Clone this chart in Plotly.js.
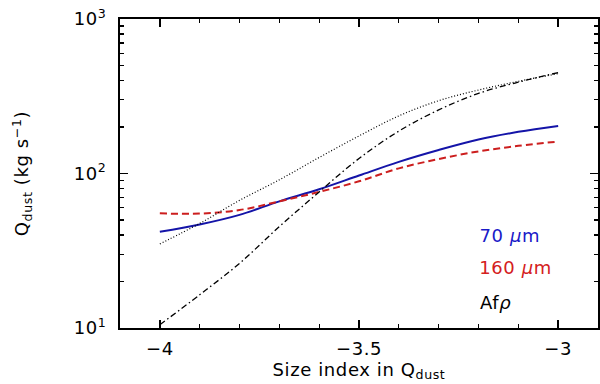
<!DOCTYPE html>
<html>
<head>
<meta charset="utf-8">
<script src="https://cdn.plot.ly/plotly-3.0.1.min.js"></script>
<style>
  html, body { margin: 0; padding: 0; background: #fff; }
  #chart { width: 600px; height: 384px; }
  #chart text { letter-spacing: 0.6px; }
</style>
</head>
<body>
<div id="chart"></div>
<script>
// Size index values (x axis)
const sizeIndex = [-4.0, -3.9, -3.8, -3.7, -3.6, -3.5, -3.4, -3.3, -3.2, -3.1, -3.0];

// Q_dust (kg/s) for each model
const q70 = [42, 46.8, 54, 66, 79, 97, 119, 142, 166, 186, 203];
const q160 = [55.2, 55, 58, 66, 76, 89, 108, 124, 139, 151, 161];
const qAfrhoDot = [35, 47.5, 67, 91, 127, 175, 236, 296, 347, 395, 443];
const qAfrhoDashDot = [10.5, 16.4, 26.2, 45.3, 76, 125, 188, 258, 330, 390, 450];

// Labels drawn inside the plot
const labelNames = ["70 <i>\u03bc</i>m", "160 <i>\u03bc</i>m", "Af<i>\u03c1</i>"];
const labelColors = ["#1a1ac8", "#d42020", "#000000"];

const FONT = "DejaVu Sans, Arial, Helvetica, sans-serif";

const traces = [
    { x: sizeIndex, y: q70, mode: "lines", line: { color: "#1414a8", width: 2, shape: "spline" } },
    { x: sizeIndex, y: q160, mode: "lines", line: { color: "#cc1e1e", width: 2, dash: "7px,4px", shape: "spline" } },
    { x: sizeIndex, y: qAfrhoDot, mode: "lines", line: { color: "#000", width: 1.2, dash: "1px,2px", shape: "spline" } },
    { x: sizeIndex, y: qAfrhoDashDot, mode: "lines", line: { color: "#000", width: 1.3, dash: "6px,3px,1.5px,3px", shape: "spline" } }
];

// minor tick positions on the log axis (2..9 x decade)
const yMinor = [];
[10, 100].forEach(d => { for (let k = 2; k <= 9; k++) yMinor.push(k * d); });

const annotations = labelNames.map((t, i) => ({
    text: t,
    xref: "paper", yref: "paper",
    x: (479 - 120) / 478, y: 1 - ([235, 267, 302][i] - 19) / 309,
    xanchor: "left", yanchor: "middle",
    showarrow: false,
    font: { family: FONT, size: 18, color: labelColors[i] }
}));

const layout = {
    width: 600, height: 384,
    margin: { l: 120, r: 2, t: 19, b: 56 },
    showlegend: false,
    paper_bgcolor: "#fff", plot_bgcolor: "#fff",
    font: { family: FONT, size: 18, color: "#000" },
    xaxis: {
        range: [-4.1, -2.9],
        tickvals: [-4, -3.5, -3],
        ticktext: ["\u22124", "\u22123.5", "\u22123"],
        ticks: "inside", ticklen: 8, tickwidth: 1.5, tickcolor: "#000",
        minor: { dtick: 0.1, tick0: -4, ticks: "inside", ticklen: 4, tickwidth: 1.2, tickcolor: "#000" },
        showline: true, linewidth: 2, linecolor: "#000", mirror: "allticks",
        showgrid: false, zeroline: false,
        tickfont: { family: FONT, size: 18 },
        ticklabelstandoff: 3,
        title: { text: "Size index in Q<sub>dust</sub>", font: { family: FONT, size: 18 }, standoff: 2 }
    },
    yaxis: {
        type: "log",
        range: [1, 3],
        tickvals: [10, 100, 1000],
        ticktext: ["10<sup>1</sup>", "10<sup>2</sup>", "10<sup>3</sup>"],
        ticks: "inside", ticklen: 8, tickwidth: 1.5, tickcolor: "#000",
        minor: { tickvals: yMinor, ticks: "inside", ticklen: 4, tickwidth: 1.2, tickcolor: "#000" },
        showline: true, linewidth: 2, linecolor: "#000", mirror: "allticks",
        showgrid: false, zeroline: false,
        tickfont: { family: FONT, size: 18 },
        ticklabelstandoff: 8,
        title: { text: "Q<sub>dust</sub> (kg s<sup>\u22121</sup>)", font: { family: FONT, size: 18 }, standoff: 42 }
    },
    annotations: annotations
};

Plotly.newPlot("chart", traces, layout, { displayModeBar: false, staticPlot: true });
</script>
</body>
</html>
